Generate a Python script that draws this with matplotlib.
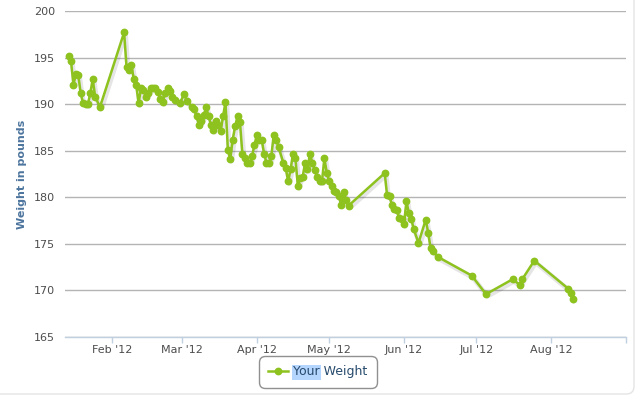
#!/usr/bin/env python3

import matplotlib
import numpy as np

matplotlib.use("Agg")
import matplotlib.pyplot as plt
import matplotlib.dates as mdates
import matplotlib.patheffects as pe
from matplotlib.patches import Rectangle, FancyBboxPatch

# weigh-in dates (2012) and weights
dates = [
    "01-14", "01-15", "01-16", "01-17", "01-18", "01-19", "01-20", "01-21", "01-22", "01-23",
    "01-24", "01-25", "01-27",
    "02-06", "02-07", "02-08", "02-09", "02-10", "02-11", "02-12", "02-13", "02-14", "02-15",
    "02-16", "02-17", "02-18", "02-19", "02-20", "02-21", "02-22", "02-23", "02-24", "02-25",
    "02-26", "02-27", "02-29",
    "03-02", "03-03", "03-05", "03-06", "03-07", "03-08", "03-09", "03-10", "03-11", "03-12",
    "03-13", "03-14", "03-15", "03-16", "03-17", "03-18", "03-19", "03-20", "03-21", "03-22",
    "03-23", "03-24", "03-25", "03-26", "03-27", "03-28", "03-29", "03-30", "03-31",
    "04-01", "04-02", "04-03", "04-04", "04-05", "04-06", "04-07", "04-08", "04-09", "04-10",
    "04-12", "04-13", "04-14", "04-15", "04-16", "04-17", "04-18", "04-19", "04-20", "04-21",
    "04-22", "04-23", "04-24", "04-25", "04-26", "04-27", "04-28", "04-29", "04-30",
    "05-01", "05-02", "05-03", "05-04", "05-05", "05-06", "05-07", "05-08", "05-09",
    "05-24", "05-25", "05-26", "05-27", "05-28", "05-29", "05-30", "05-31",
    "06-01", "06-02", "06-03", "06-04", "06-05", "06-07", "06-10", "06-11", "06-12", "06-13",
    "06-15", "06-29",
    "07-05", "07-16", "07-19", "07-20", "07-25",
    "08-08", "08-09", "08-10",
]
weights = [
    195.2, 194.6, 192.1, 193.2, 193.1, 191.2, 190.1, 190.0, 190.0, 191.2,
    192.7, 190.8, 189.7,
    197.7, 194.0, 193.7, 194.2, 192.7, 192.1, 190.1, 191.7, 191.5, 190.8,
    191.2, 191.7, 191.7, 191.7, 191.3, 190.5, 190.2, 191.2, 191.7, 191.4,
    190.8, 190.4, 190.1,
    191.1, 190.3, 189.7, 189.5, 188.7, 187.8, 188.2, 188.8, 189.7, 188.7,
    187.8, 187.2, 188.2, 187.8, 187.1, 188.7, 190.2, 185.1, 184.1, 186.2,
    187.6, 188.7, 188.1, 184.7, 184.2, 183.7, 183.7, 184.4, 185.6,
    186.7, 186.2, 186.2, 184.7, 183.7, 183.7, 184.4, 186.7, 186.2, 185.4,
    183.7, 183.1, 181.7, 183.0, 184.7, 184.2, 181.2, 182.1, 182.2, 183.7,
    183.0, 184.7, 183.7, 182.9, 182.2, 181.7, 181.7, 184.2, 182.6,
    181.7, 181.2, 180.7, 180.6, 180.1, 179.2, 180.6, 179.7, 179.1,
    182.6, 180.2, 180.1, 179.2, 178.7, 178.6, 177.8, 177.7,
    177.1, 179.6, 178.3, 177.7, 176.6, 175.1, 177.6, 176.2, 174.6, 174.2,
    173.6, 171.6,
    169.6, 171.2, 170.6, 171.2, 173.2,
    170.2, 169.7, 169.1,
]
month_ticks = ["2012-02-01", "2012-03-01", "2012-04-01", "2012-05-01", "2012-06-01",
               "2012-07-01", "2012-08-01", "2012-09-01"]
y_ticks = [165, 170, 175, 180, 185, 190, 195, 200]

GREEN = "#8DC21F"
GRID = "#B4B4B4"
AXIS = "#C0D0E0"
LABEL = "#4D4D4D"

x = np.array(["2012-" + d for d in dates], dtype="datetime64[D]")
y = np.array(weights)

fig = plt.figure(figsize=(6.38, 3.97), dpi=100)
ax = fig.add_axes([65 / 638, 60 / 397, 561 / 638, 326 / 397])

# soft shadow under the line only, then the line and markers on top
ax.plot(x, y, "-", color=GREEN, lw=1.8, zorder=2,
        path_effects=[pe.SimpleLineShadow(offset=(1, -1.5), shadow_color="k", alpha=0.1,
                                          linewidth=3.5)])
ax.plot(x, y, "-o", color=GREEN, lw=1.8, ms=4.6, mec=GREEN, mfc=GREEN, zorder=3,
        label="Your Weight")

ax.set_xlim(np.datetime64("2012-01-12T12:00"), np.datetime64("2012-09-01"))
ax.set_ylim(165, 200)

ax.set_yticks(y_ticks)
ax.grid(axis="y", color=GRID, lw=1)
ax.set_axisbelow(True)

tick_dates = np.array(month_ticks, dtype="datetime64[D]")
ax.set_xticks(tick_dates)
ax.set_xticklabels([mdates.num2date(mdates.date2num(t)).strftime("%b '%y") for t in tick_dates[:-1]] + [""])

for s in ["left", "top", "right"]:
    ax.spines[s].set_visible(False)
ax.spines["bottom"].set_color(AXIS)
ax.spines["bottom"].set_linewidth(1)
ax.spines["bottom"].set_zorder(4)

ax.tick_params(axis="x", colors=AXIS, length=4, width=1, pad=2, labelsize=8, labelcolor=LABEL)
ax.tick_params(axis="y", length=0, pad=7, labelsize=8, labelcolor=LABEL)

fig.text(22 / 638, 1 - 174 / 397, "Weight in pounds", rotation=90, ha="center", va="center",
         fontsize=8, fontweight="bold", color="#4D759E")

leg = fig.legend(loc="center", bbox_to_anchor=(318 / 638, 1 - 372 / 397), fontsize=9,
                 handlelength=1.6, handletextpad=0.4, borderpad=0.45, fancybox=True,
                 edgecolor="#909090", facecolor="none", framealpha=1)
leg.get_frame().set_linewidth(1)
leg.get_frame().set_boxstyle("round", pad=0.3, rounding_size=0.5)
for t in leg.get_texts():
    t.set_color("#274B6D")
leg.set_zorder(5)

# selection highlight behind "Your" in the legend text, as on the screenshot
fig.canvas.draw()
renderer = fig.canvas.get_renderer()
txt = leg.get_texts()[0]
bb = txt.get_window_extent(renderer)
w_your, _, _ = renderer.get_text_width_height_descent("Your", txt.get_fontproperties(), ismath=False)
inv = fig.transFigure.inverted()
(x0, y0), (x1, y1) = inv.transform([(bb.x0 - 1, bb.y0 - 1), (bb.x0 + w_your + 1, bb.y1 + 1)])
fig.patches.append(Rectangle((x0, y0), x1 - x0, y1 - y0, transform=fig.transFigure,
                             facecolor="#B4D5FE", edgecolor="none", zorder=4))

# faint container border on the right edge
fig.patches.append(FancyBboxPatch((-0.05, 3 / 397), 0.05 + 634 / 638, 0.05 + 394 / 397,
                                  boxstyle="round,pad=0,rounding_size=0.012",
                                  mutation_aspect=638 / 397, transform=fig.transFigure,
                                  facecolor="none", edgecolor="#E4E4E4", lw=1, zorder=0))

fig.savefig("out.png", dpi=100)
